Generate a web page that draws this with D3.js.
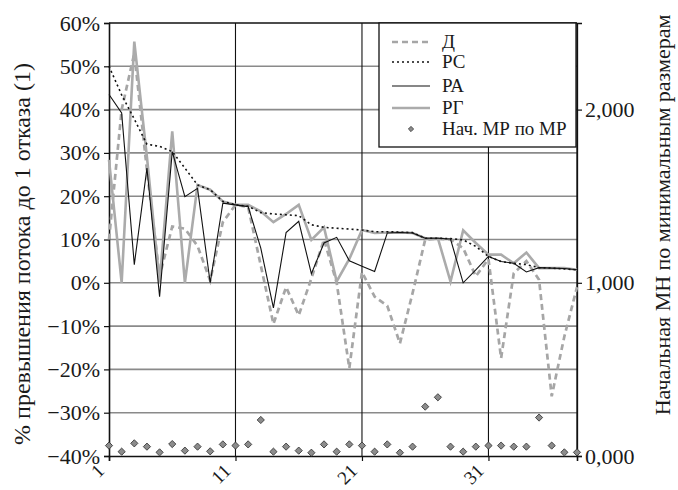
<!DOCTYPE html>
<html>
<head>
<meta charset="utf-8">
<script src="https://cdn.jsdelivr.net/npm/d3@7"></script>
<style>
  html, body { margin: 0; padding: 0; background: #fff; }
  svg { display: block; font-family: "Liberation Serif", "Times New Roman", serif; }
</style>
</head>
<body>
<svg id="chart" width="678" height="490"></svg>
<script>
// Case numbers along the horizontal axis
const cases = d3.range(1, 39);

// Relative flow excess up to the first failure, per method
const seriesD  = [0.10, 0.40, 0.53, 0.26, 0.015, 0.13, 0.125, 0.085, 0.005, 0.14,
                  0.18, 0.175, 0.04, -0.095, -0.01, -0.075, 0.01, 0.10, 0.0, -0.197,
                  0.025, -0.032, -0.053, -0.14, -0.024, 0.10, 0.102, 0.10, 0.08, 0.015,
                  0.055, -0.174, 0.022, 0.05, 0.007, -0.262, -0.124, -0.01];
const seriesRS = [0.50, 0.434, 0.378, 0.32, 0.315, 0.303, 0.265, 0.226, 0.215, 0.188,
                  0.18, 0.177, 0.162, 0.159, 0.157, 0.155, 0.134, 0.128, 0.126, 0.124,
                  0.122, 0.118, 0.118, 0.117, 0.116, 0.103, 0.103, 0.102, 0.099, 0.084,
                  0.061, 0.049, 0.045, 0.042, 0.035, 0.034, 0.032, 0.03];
const seriesRA = [0.435, 0.392, 0.042, 0.265, -0.032, 0.303, 0.199, 0.218, 0.0, 0.184,
                  0.18, 0.176, 0.08, -0.058, 0.116, 0.142, 0.021, 0.092, 0.105, 0.051,
                  0.038, 0.026, 0.115, 0.116, 0.115, 0.103, 0.103, 0.101, 0.0, 0.03,
                  0.061, 0.049, 0.045, 0.025, 0.035, 0.034, 0.033, 0.03];
const seriesRG = [0.284, 0.0, 0.557, 0.29, 0.0, 0.35, 0.0, 0.226, 0.215, 0.188,
                  0.18, 0.18, 0.165, 0.14, 0.159, 0.18, 0.099, 0.128, 0.003, 0.055,
                  0.122, 0.115, 0.116, 0.116, 0.115, 0.103, 0.103, 0.003, 0.121, 0.092,
                  0.065, 0.065, 0.045, 0.07, 0.034, 0.034, 0.034, 0.03];
// Initial MN by minimal sizes (right axis)
const initialMN = [0.060, 0.025, 0.073, 0.054, 0.021, 0.069, 0.031, 0.054, 0.027, 0.067,
                   0.060, 0.067, 0.208, 0.025, 0.054, 0.031, 0.019, 0.067, 0.025, 0.067,
                   0.060, 0.025, 0.067, 0.019, 0.054, 0.285, 0.339, 0.054, 0.025, 0.054,
                   0.060, 0.060, 0.054, 0.054, 0.222, 0.060, 0.021, 0.021];

const leftTicks  = [-0.4, -0.3, -0.2, -0.1, 0, 0.1, 0.2, 0.3, 0.4, 0.5, 0.6];
const rightTicks = [0, 1, 2];
const caseTicks  = [1, 11, 21, 31];
const legendLabels = ["Д", "РС", "РА", "РГ", "Нач. МР по МР"];
const leftTitle  = "% превышения потока до 1 отказа (1)";
const rightTitle = "Начальная МН по минимальным размерам";

const svg = d3.select("#chart");
const plot = { left: 109, right: 577, top: 23, bottom: 456 };

const x  = d3.scaleLinear().domain([1, 38]).range([plot.left, plot.right]);
const y  = d3.scaleLinear().domain([-0.4, 0.6]).range([plot.bottom, plot.top]);
const y2 = d3.scaleLinear().domain([0, 2.5]).range([plot.bottom, plot.top]);

const pctFmt = d => (d < 0 ? "\u2212" : "") + Math.round(Math.abs(d) * 100) + "%";
const mnFmt  = d => d.toFixed(3).replace(".", ",");

// Horizontal gridlines
svg.append("g").selectAll("line")
  .data(leftTicks.filter(t => t > -0.4 && t < 0.6))
  .join("line")
  .attr("x1", plot.left).attr("x2", plot.right)
  .attr("y1", d => y(d)).attr("y2", d => y(d))
  .attr("stroke", "#8a8a8a").attr("stroke-width", 1.6);

// Vertical gridlines
svg.append("g").selectAll("line")
  .data(caseTicks.filter(t => t > 1))
  .join("line")
  .attr("x1", d => x(d)).attr("x2", d => x(d))
  .attr("y1", plot.top).attr("y2", plot.bottom)
  .attr("stroke", "#111").attr("stroke-width", 1.1);

// Frame top and right
svg.append("line").attr("x1", plot.left).attr("x2", plot.right)
  .attr("y1", plot.top).attr("y2", plot.top)
  .attr("stroke", "#111").attr("stroke-width", 1.6);
svg.append("line").attr("x1", plot.right).attr("x2", plot.right)
  .attr("y1", plot.top).attr("y2", plot.bottom)
  .attr("stroke", "#111").attr("stroke-width", 1.3);

// Axes
const axisLeft = svg.append("g")
  .attr("transform", `translate(${plot.left},0)`)
  .call(d3.axisLeft(y).tickValues(leftTicks).tickFormat(pctFmt).tickSize(5).tickPadding(4));
const axisRight = svg.append("g")
  .attr("transform", `translate(${plot.right},0)`)
  .call(d3.axisRight(y2).tickValues(rightTicks).tickFormat(mnFmt).tickSize(5).tickPadding(3));
const axisBottom = svg.append("g")
  .attr("transform", `translate(0,${plot.bottom})`)
  .call(d3.axisBottom(x).tickValues(caseTicks).tickFormat(d3.format("d")).tickSize(5));

[axisLeft, axisRight, axisBottom].forEach(g => {
  g.select(".domain").attr("stroke", "#111").attr("stroke-width", 1.6);
  g.selectAll(".tick line").attr("stroke", "#111").attr("stroke-width", 1.2);
  g.selectAll("text").attr("fill", "#1a1a1a")
    .attr("font-family", "'Liberation Serif', 'Times New Roman', serif")
    .attr("font-size", 22);
});
axisRight.select(".domain").attr("stroke-width", 1.3);
axisBottom.selectAll(".tick text")
  .attr("font-size", 19)
  .attr("text-anchor", "end")
  .attr("dy", 0)
  .attr("transform", "translate(-4,16) rotate(-45)")
  .attr("y", 0).attr("x", 0);

// Series lines
const line = data => d3.line().x((d, i) => x(cases[i])).y(d => y(d))(data);

svg.append("path").attr("d", line(seriesD))
  .attr("fill", "none").attr("stroke", "#a6a6a6").attr("stroke-width", 2.7)
  .attr("stroke-dasharray", "6,4");
svg.append("path").attr("d", line(seriesRG))
  .attr("fill", "none").attr("stroke", "#ababab").attr("stroke-width", 2.6)
  .attr("stroke-linejoin", "miter");
svg.append("path").attr("d", line(seriesRA))
  .attr("fill", "none").attr("stroke", "#111").attr("stroke-width", 1.1);
svg.append("path").attr("d", line(seriesRS))
  .attr("fill", "none").attr("stroke", "#111").attr("stroke-width", 1.6)
  .attr("stroke-dasharray", "2,3");

// Initial MN markers
const diamond = d3.symbol(d3.symbolSquare, 26);
svg.append("g").selectAll("path")
  .data(initialMN)
  .join("path")
  .attr("d", diamond)
  .attr("transform", (d, i) => `translate(${x(cases[i])},${y2(d)}) rotate(45)`)
  .attr("fill", "#8c8c8c").attr("stroke", "#333").attr("stroke-width", 0.8);

// Legend
const lg = svg.append("g").attr("transform", "translate(379,23)");
lg.append("rect").attr("width", 197).attr("height", 124)
  .attr("fill", "#fff").attr("stroke", "#111").attr("stroke-width", 1.3);
const rowY = [19, 39, 63, 85, 106];
const swatch = [
  { stroke: "#a6a6a6", w: 2.7, dash: "6,4" },
  { stroke: "#111", w: 1.6, dash: "2,3" },
  { stroke: "#111", w: 1.1, dash: null },
  { stroke: "#ababab", w: 2.6, dash: null }
];
swatch.forEach((s, i) => {
  lg.append("line").attr("x1", 13).attr("x2", 51)
    .attr("y1", rowY[i]).attr("y2", rowY[i])
    .attr("stroke", s.stroke).attr("stroke-width", s.w)
    .attr("stroke-dasharray", s.dash);
});
lg.append("path").attr("d", d3.symbol(d3.symbolSquare, 14))
  .attr("transform", `translate(32,${rowY[4]}) rotate(45)`)
  .attr("fill", "#8c8c8c").attr("stroke", "#333").attr("stroke-width", 0.7);
lg.selectAll("text.lbl")
  .data(legendLabels)
  .join("text")
  .attr("class", "lbl")
  .attr("x", 63).attr("y", (d, i) => rowY[i])
  .attr("dy", "0.33em")
  .attr("font-size", 19).attr("fill", "#1a1a1a")
  .text(d => d);

// Axis titles
svg.append("text")
  .attr("transform", "translate(30,254) rotate(-90)")
  .attr("text-anchor", "middle")
  .attr("font-size", 24).attr("fill", "#1a1a1a")
  .text(leftTitle);
svg.append("text")
  .attr("transform", "translate(670,215) rotate(-90)")
  .attr("text-anchor", "middle")
  .attr("font-size", 22).attr("fill", "#1a1a1a")
  .text(rightTitle);
</script>
</body>
</html>
